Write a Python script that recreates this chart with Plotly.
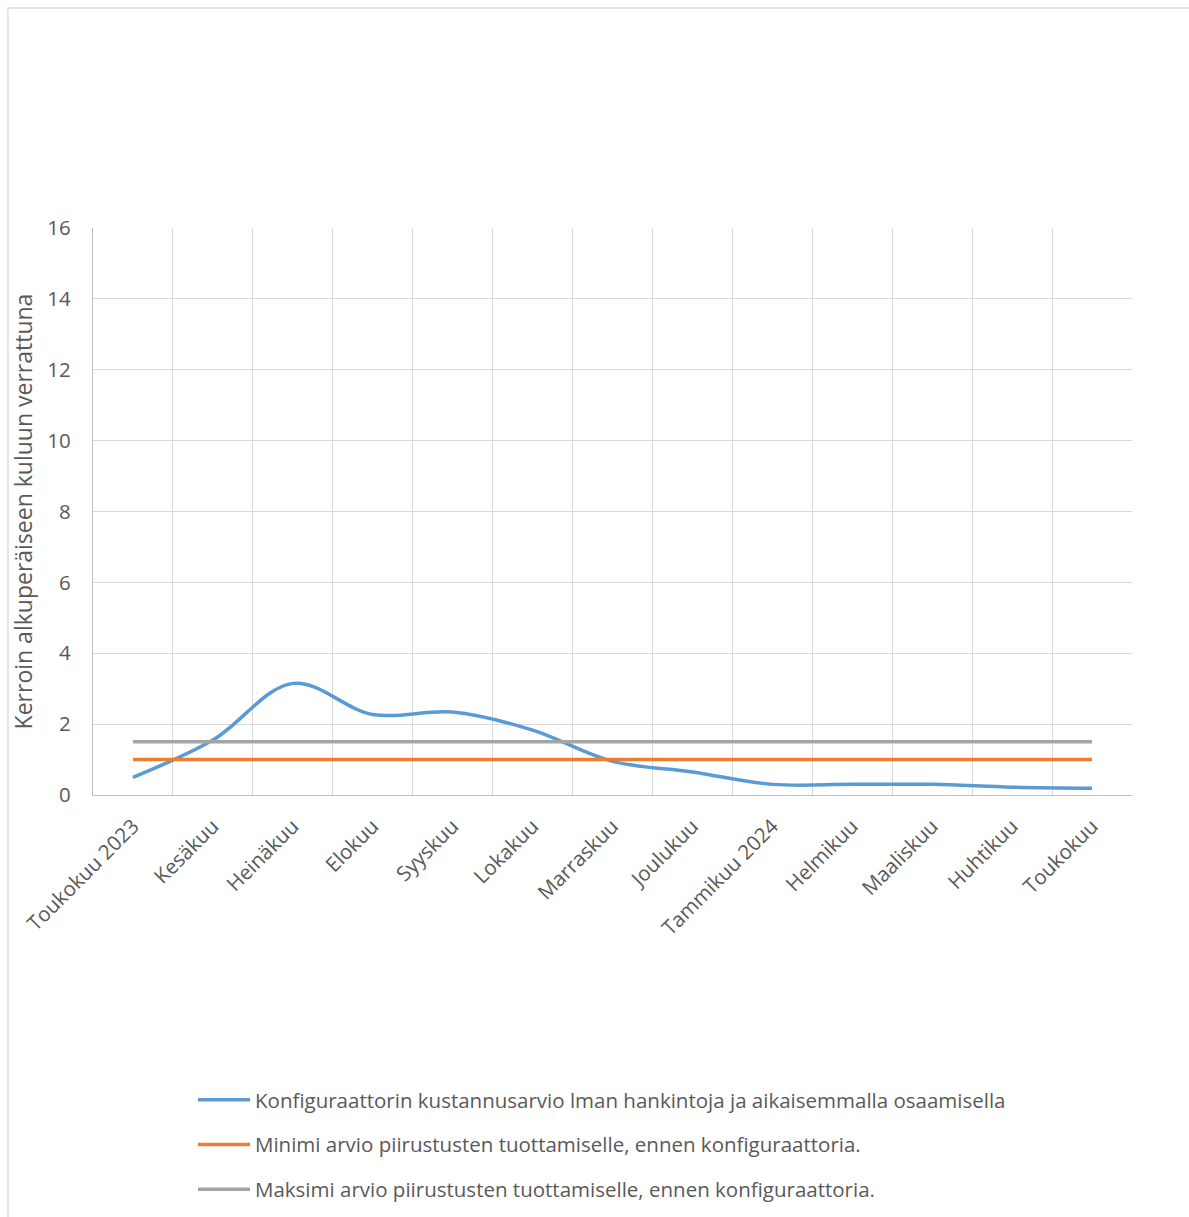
import plotly.graph_objects as go

months = ["Toukokuu 2023", "Kesäkuu", "Heinäkuu", "Elokuu", "Syyskuu", "Lokakuu",
          "Marraskuu", "Joulukuu", "Tammikuu 2024", "Helmikuu", "Maaliskuu",
          "Huhtikuu", "Toukokuu"]
konfiguraattori = [0.5, 1.55, 3.15, 2.27, 2.34, 1.83, 0.95, 0.65, 0.3, 0.3, 0.3, 0.22, 0.19]
minimi = [1.0] * 13
maksimi = [1.5] * 13

names = [
    "Konfiguraattorin kustannusarvio lman hankintoja ja aikaisemmalla osaamisella",
    "Minimi arvio piirustusten tuottamiselle, ennen konfiguraattoria.",
    "Maksimi arvio piirustusten tuottamiselle, ennen konfiguraattoria.",
]
y_ticks = [0, 2, 4, 6, 8, 10, 12, 14, 16]

W, H = 1189, 1217
L, R, T, B = 93, 1132, 228, 795

fig = go.Figure()
fig.add_trace(go.Scatter(x=months, y=konfiguraattori, mode="lines", name=names[0],
                         line=dict(color="#5B9BD5", width=3.5, shape="spline", smoothing=1.0),
                         legendgroup="a"))
fig.add_trace(go.Scatter(x=months, y=minimi, mode="lines", name=names[1],
                         line=dict(color="#ED7D31", width=3.5), legendgroup="b"))
fig.add_trace(go.Scatter(x=months, y=maksimi, mode="lines", name=names[2],
                         line=dict(color="#A5A5A5", width=3.5), legendgroup="c"))

pw = R - L
ph = B - T
def px(x):
    return (x - L) / pw
def py(y):
    return (B - y) / ph

fig.add_shape(type="rect", xref="paper", yref="paper",
              x0=px(8), x1=px(1200), y0=py(1230), y1=py(8),
              line=dict(color="#D9D9D9", width=1.3), fillcolor="rgba(0,0,0,0)", layer="below")

fig.update_layout(
    width=W, height=H,
    margin=dict(l=L, r=W - R, t=T, b=H - B, autoexpand=False),
    paper_bgcolor="white", plot_bgcolor="white",
    font=dict(family="Open Sans", color="#595959", size=20),
    showlegend=True,
    legend=dict(orientation="v", x=px(193), y=py(1080), xanchor="left", yanchor="top",
                font=dict(size=20.5, color="#595959"), tracegroupgap=15,
                itemwidth=52, bgcolor="rgba(0,0,0,0)"),
)
fig.update_xaxes(type="category", range=[-0.5, 12.5], tickson="boundaries",
                 showgrid=True, gridcolor="#D9D9D9", gridwidth=1.3,
                 showline=True, linecolor="#BFBFBF", linewidth=1.3, automargin=False,
                 ticks="", tickangle=-45, ticklabelstandoff=10,
                 tickfont=dict(size=20.5, color="#595959"))
fig.update_yaxes(range=[0, 16], tickvals=y_ticks, showgrid=True, gridcolor="#D9D9D9",
                 gridwidth=1.3, showline=True, linecolor="#BFBFBF", linewidth=1.3,
                 zeroline=False, ticks="", ticklabelstandoff=17, automargin=False,
                 tickfont=dict(size=20.5, color="#595959"),
                 title=dict(text="Kerroin alkuperäiseen kuluun verrattuna",
                            font=dict(size=23, color="#595959"), standoff=8))

fig.write_html("out.html")
